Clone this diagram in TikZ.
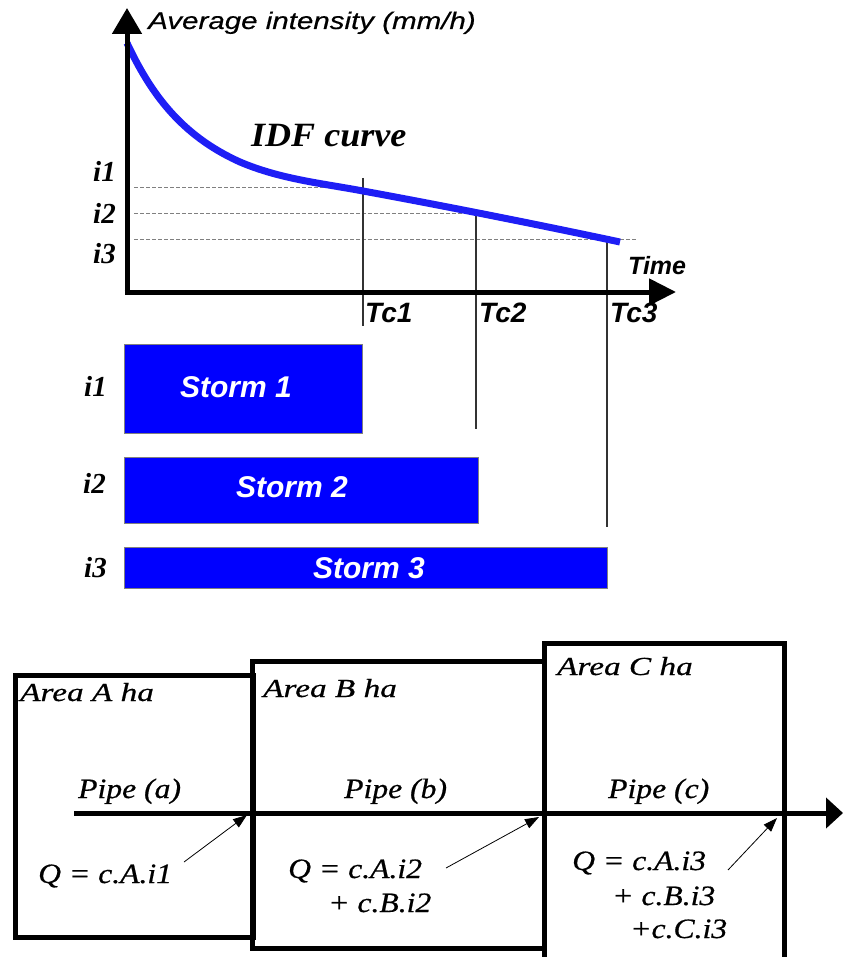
\documentclass[tikz,border=0pt]{standalone}
\usepackage{fontspec}
\usepackage{graphicx}
\setmainfont{Liberation Serif}
\setsansfont{Liberation Sans}
\newfontfamily\heavyserif{Liberation Serif}[FakeBold=0.6]
\newfontfamily\heavysans{Liberation Sans}[FakeBold=0.4]
\usetikzlibrary{arrows.meta}
\definecolor{curveblue}{RGB}{30,30,245}
\definecolor{stormblue}{RGB}{0,0,255}
\newcommand{\stretchtxt}[2][1.15]{\scalebox{#1}[1]{#2}}
\begin{document}
\begin{tikzpicture}[x=1pt,y=-1pt,
  axisline/.style={line width=5pt},
  guide/.style={gray, line width=1pt, dash pattern=on 4pt off 2pt},
  tcline/.style={black!80, line width=1.1pt},
  axlab/.style={font=\sffamily\bfseries\itshape\fontsize{28}{30}\selectfont, inner sep=0pt},
  ilab/.style={font=\bfseries\itshape\fontsize{29}{31}\selectfont, inner sep=0pt},
  stormbox/.style={fill=stormblue, draw=gray, line width=0.8pt, anchor=north west, inner sep=0pt},
  stormtxt/.style={text=white, inner sep=0pt, anchor=base, font=\sffamily\bfseries\itshape\fontsize{30}{32}\selectfont},
  areabox/.style={draw, line width=5pt, anchor=north west, inner sep=0pt},
  areatxt/.style={font=\heavyserif\itshape\fontsize{26}{28}\selectfont, inner sep=0pt, anchor=base west},
  btxt/.style={font=\heavyserif\itshape\fontsize{28}{30}\selectfont, inner sep=0pt},
  thinarrow/.style={line width=0.8pt, -{Triangle[length=14pt,width=10pt]}}
]
\useasboundingbox (0,0) rectangle (843,957);

% ---------- IDF chart ----------
\coordinate (ytop) at (127,8);
\coordinate (ybot) at (127,294.5);
\coordinate (xleft) at (124.5,292);
\coordinate (xend) at (676,292);

\draw[guide] (134,188) -- (335,188);
\draw[guide] (134,214) -- (470,214);
\draw[guide] (134,240) -- (637,240);

\draw[tcline] (363,178) -- (363,326);
\draw[tcline] (476,210) -- (476,429);
\draw[tcline] (607,240) -- (607,527);

\draw[curveblue, line width=7pt, line cap=butt] (127,43)
  .. controls (150,92) and (180,135) .. (240,162)
  .. controls (280,179) and (320,183) .. (363,191)
  .. controls (450,207) and (540,225) .. (620,242);

\draw[axisline, -{Triangle[length=26pt,width=29pt]}] (ybot) -- (ytop);
\draw[axisline, -{Triangle[length=27pt,width=26pt]}] (xleft) -- (xend);

\node[anchor=base west, inner sep=0pt, font=\heavysans\itshape\fontsize{24}{26}\selectfont] (ylab) at (148,29) {\stretchtxt[1.23]{Average intensity (mm/h)}};
\node[anchor=base west, inner sep=0pt, font=\bfseries\itshape\fontsize{34}{36}\selectfont] (idf) at (251,147) {\stretchtxt[1.06]{IDF curve}};

\node[ilab, anchor=base east] (yi1) at (116,182) {i1};
\node[ilab, anchor=base east] (yi2) at (116,224) {i2};
\node[ilab, anchor=base east] (yi3) at (116,264) {i3};

\node[axlab, anchor=base west] (tc1) at (365,322) {Tc1};
\node[axlab, anchor=base west] (tc2) at (479,322) {Tc2};
\node[axlab, anchor=base west] (tc3) at (610,322) {Tc3};
\node[anchor=base west, inner sep=0pt, font=\sffamily\bfseries\itshape\fontsize{25}{27}\selectfont] (time) at (628,275) {Time};

% ---------- storms ----------
\node[stormbox, minimum width=238pt, minimum height=89pt] (s1) at (124,344) {};
\node[stormbox, minimum width=354pt, minimum height=66pt] (s2) at (124,457) {};
\node[stormbox, minimum width=483pt, minimum height=41pt] (s3) at (124,547) {};
\node[stormtxt] (s1t) at (236,397) {Storm 1};
\node[stormtxt] (s2t) at (292,497) {Storm 2};
\node[stormtxt] (s3t) at (369,578) {Storm 3};

\node[ilab, anchor=base east] (si1) at (107,396) {i1};
\node[ilab, anchor=base east] (si2) at (106,493) {i2};
\node[ilab, anchor=base east] (si3) at (107,577) {i3};

% ---------- areas ----------
\node[areabox, minimum width=238pt, minimum height=262pt] (boxA) at (13,673) {};
\node[areabox, minimum width=292pt, minimum height=287pt] (boxB) at (250,659) {};
\node[areabox, minimum width=240pt, minimum height=330pt] (boxC) at (542,641) {};

\coordinate (pstart) at (74,813);
\coordinate (pend) at (843,813);
\draw[axisline, -{Triangle[length=17pt,width=30pt]}] (pstart) -- (pend);

\node[areatxt] (areaA) at (20,701) {\stretchtxt[1.28]{Area A ha}};
\node[areatxt] (areaB) at (263,697) {\stretchtxt[1.28]{Area B ha}};
\node[areatxt] (areaC) at (557,675) {\stretchtxt[1.28]{Area C ha}};

\node[btxt, anchor=base west] (pipeA) at (78,798) {\stretchtxt[1.13]{Pipe (a)}};
\node[btxt, anchor=base west] (pipeB) at (344,798) {\stretchtxt[1.13]{Pipe (b)}};
\node[btxt, anchor=base west] (pipeC) at (608,798) {\stretchtxt[1.13]{Pipe (c)}};

\node[btxt, anchor=base west] (qA) at (38,883) {\stretchtxt[1.13]{Q = c.A.i1}};
\node[btxt, anchor=base west] (qB) at (288,878) {\stretchtxt[1.13]{Q = c.A.i2}};
\node[btxt, anchor=base west] (qB2) at (328,912) {\stretchtxt[1.13]{+ c.B.i2}};
\node[btxt, anchor=base west] (qC) at (572,870) {\stretchtxt[1.13]{Q = c.A.i3}};
\node[btxt, anchor=base west] (qC2) at (612,905) {\stretchtxt[1.13]{+ c.B.i3}};
\node[btxt, anchor=base west] (qC3) at (630,938) {\stretchtxt[1.13]{+c.C.i3}};

\coordinate (fromA) at (184,862);
\coordinate (toA) at (247,815);
\coordinate (fromB) at (446,868);
\coordinate (toB) at (539,817);
\coordinate (fromC) at (728,870);
\coordinate (toC) at (777,818);
\draw[thinarrow] (fromA) -- (toA);
\draw[thinarrow] (fromB) -- (toB);
\draw[thinarrow] (fromC) -- (toC);
\end{tikzpicture}
\end{document}
